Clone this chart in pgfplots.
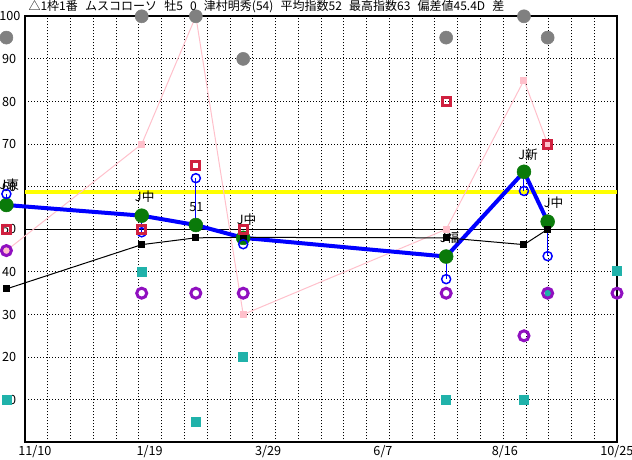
\documentclass[border=0pt]{standalone}
\usepackage{fontspec}
\setmainfont{Noto Sans CJK JP}
\usepackage{pgfplots}
\usepackage{pgfplotstable}
\pgfplotsset{compat=1.18}
\definecolor{cblue}{HTML}{0000FF}
\definecolor{cgreen}{HTML}{0A7A0A}
\definecolor{cgray}{HTML}{808080}
\definecolor{cred}{HTML}{D0203F}
\definecolor{cpurple}{HTML}{9010C0}
\definecolor{cteal}{HTML}{20B2AA}
\definecolor{cpink}{HTML}{FFC0CB}
\definecolor{cyellow}{HTML}{FFFF00}

% x = days from 11/10
\pgfplotstableread{
x     green  blue  black pink
-11   55.7   58.3  36.0  45
69    53.2   49.3  46.4  70
101   51.0   62.0  48.0  100
129   48.0   46.5  48.1  30
249   43.6   38.3  48.0  50
295   63.5   59.0  46.4  85
309   51.8   43.7  50.0  70
}\races

\begin{document}
\begin{tikzpicture}
\begin{axis}[
  at={(18.75pt,13.275pt)}, anchor=south west,
  scale only axis, width=444pt, height=319.5pt,
  xmin=0, xmax=350, ymin=0, ymax=100, clip=false,
  axis line style={line width=1.5pt},
  xtick={13.4615,26.9231,40.3846,53.8462,67.3077,80.7692,94.2308,107.6923,121.1538,134.6154,148.0769,161.5385,175,188.4615,201.9231,215.3846,228.8462,242.3077,255.7692,269.2308,282.6923,296.1538,309.6154,323.0769,336.5385},
  xticklabels={},
  ytick={10,20,30,40,50,60,70,80,90,100},
  yticklabels={10,20,30,40,50,60,70,80,90,100\hspace*{-3.2pt}},
  grid=major,
  grid style={black, line width=0.6pt, dash pattern=on 0.75pt off 1.5pt},
  major tick length=0pt,
  extra x ticks={0,70,140,210,280,350},
  extra x tick labels={11/10,1/19,3/29,6/7,8/16,\hspace*{-7.5pt}10/25},
  extra x tick style={grid=none, xticklabel style={anchor=north west, inner sep=0pt, xshift=-5.25pt, yshift=-2.5pt}},
  yticklabel style={anchor=east, inner sep=0pt, xshift=-6.4pt},
  /pgf/number format/assume math mode=true,
  tick label style={font=\fontsize{9.5}{10}\selectfont},
]
% reference lines
\addplot[cyellow, line width=3pt] coordinates {(0,58.7) (350,58.7)};
\addplot[black, line width=0.75pt] coordinates {(0,50) (350,50)};
% pink line
\addplot[cpink, line width=0.75pt, mark=square*, mark size=2.25pt, mark options={fill=cpink, draw=cpink}] table[x=x,y=pink] {\races};
% blue thick line
\addplot[cblue, line width=3pt] table[x=x,y=green] {\races};
% green circles
\addplot[only marks, mark=*, mark size=5.2pt, mark options={fill=cgreen, draw=cgreen}] table[x=x,y=green] {\races};
% stems
\addplot[cblue, line width=0.75pt, unbounded coords=jump] coordinates {
(-11,55.7) (-11,58.3) (-11,nan)
(69,53.2) (69,49.3) (69,nan)
(101,51.0) (101,62.0) (101,nan)
(129,48.0) (129,46.5) (129,nan)
(249,43.6) (249,38.3) (249,nan)
(295,63.5) (295,59.0) (295,nan)
(309,51.8) (309,43.7)
};
% black line
\addplot[black, line width=0.75pt, mark=square*, mark size=2.25pt, mark options={fill=black}] table[x=x,y=black] {\races};
% blue open circles
\addplot[only marks, mark=o, mark size=3.4pt, mark options={draw=cblue, line width=1.1pt}] table[x=x,y=blue] {\races};
% red open squares
\addplot[only marks, mark=square, mark size=3pt, mark options={draw=cred, line width=2.25pt}] coordinates {
(-11,50) (69,50) (101,65) (129,50) (249,80) (309,70)};
% teal squares
\addplot[only marks, mark=square*, mark size=3.4pt, mark options={fill=cteal, draw=cteal}] coordinates {
(-11,9.9) (69,40) (101,4.9) (129,20) (249,9.9) (295,9.9) (350,40.2)};
\addplot[only marks, mark=square*, mark size=2pt, mark options={fill=cteal, draw=cteal}] coordinates {(309,35)};
% purple open circles
\addplot[only marks, mark=o, mark size=3.75pt, mark options={draw=cpurple, line width=2.25pt}] coordinates {
(-11,45) (69,35) (101,35) (129,35) (249,35) (295,25) (309,35) (350,35)};
% gray circles
\addplot[only marks, mark=*, mark size=4.9pt, mark options={fill=cgray, draw=cgray}] coordinates {
(-11,95) (69,100) (101,100) (129,90) (249,95) (295,100) (309,95)};
% labels
\begin{scope}[every node/.style={font=\fontsize{9.5}{10}\selectfont, inner sep=0pt}]
\node at (axis cs:-11,55.7) [xshift=2.25pt, yshift=15pt] {J東};
\node at (axis cs:69,53.2) [xshift=2.25pt, yshift=14.25pt] {J中};
\node at (axis cs:101,51.0) [xshift=0.4pt, yshift=13.7pt] {51};
\node at (axis cs:129,48.0) [xshift=2.6pt, yshift=13.5pt] {J中};
\node at (axis cs:249,43.6) [xshift=2.6pt, yshift=14pt] {J福};
\node at (axis cs:295,63.5) [xshift=3pt, yshift=12.75pt] {J新};
\node at (axis cs:309,51.8) [xshift=4.5pt, yshift=14pt] {J中};
\end{scope}
\end{axis}
\node[anchor=west, inner sep=0pt, font=\fontsize{9}{10}\selectfont] at (21.2pt,339.75pt) {\spaceskip=0.6em\relax △1枠1番 ムスコローソ 牡5 0 津村明秀(54) 平均指数52 最高指数63 偏差値45.4D 差};
\pgfresetboundingbox
\useasboundingbox (0,0) rectangle (474pt,345pt);
\end{tikzpicture}
\end{document}
